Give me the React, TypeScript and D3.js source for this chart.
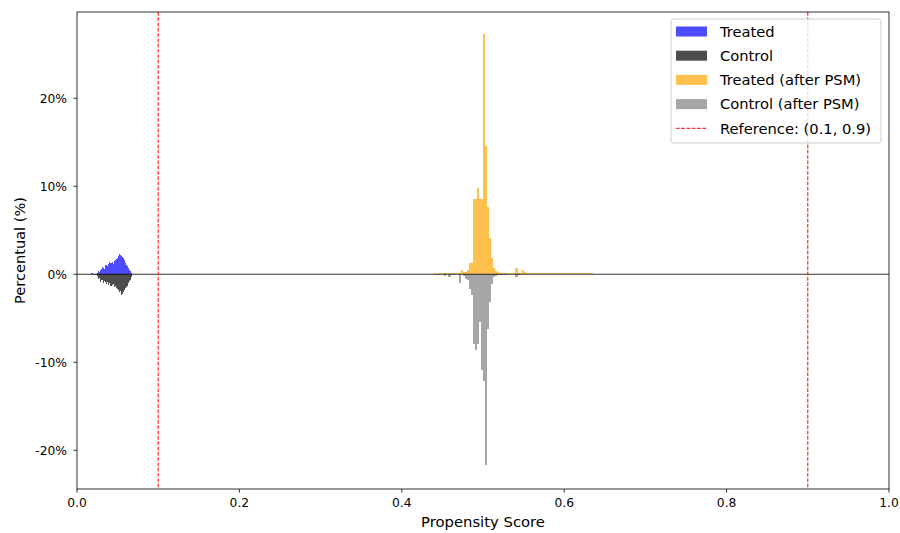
import React from "react";
import * as d3 from "d3";

// ---- data (percent of group per bin) ----
const BEFORE_START = 0.0175;
const BEFORE_BIN = 0.00125;
const treatedBefore = [0.2, 0.1, 0, 0, 0, 0.05, 0.1, 0.35, 0.3, 0.5, 0.6, 0.8, 0.7, 0.6, 1.0, 1.1, 0.9, 1.2, 1.35, 1.3, 1.4, 1.2, 1.5, 1.6, 1.7, 1.9, 2.1, 2.35, 2.2, 2.1, 2.0, 1.8, 1.6, 1.3, 1.1, 0.9, 0.7, 0.5, 0.4, 0.2];
const controlBefore = [0, 0, 0.05, 0, 0.1, 0.05, 0.15, 0.5, 0.4, 0.9, 0.6, 0.7, 1.0, 0.8, 0.9, 1.1, 0.9, 1.2, 1.0, 1.3, 1.2, 1.1, 1.5, 1.3, 1.6, 1.7, 1.8, 2.0, 1.9, 2.35, 2.2, 2.0, 1.8, 1.6, 1.5, 1.3, 1.0, 0.8, 0.6, 0.3];

const AFTER_START = 0.44;
const AFTER_BIN = 0.0025;
const treatedAfter = [
  0.1, 0, 0.1, 0.15, 0.1, 0.1, 0.15, 0.2, 0.15, 0.2, 0.2, 0.2, 0.2, 0.45, 0.3,
  0.3, 0.45, 1.3, 1.3, 8.5, 8.5, 9.8, 8.5, 8.6, 27.3, 14.6, 7.6, 4.1, 1.8, 0.7,
  0.4, 0.3, 0.2, 0.15, 0.15, 0.15, 0.15, 0.15, 0.12, 0.15, 0.75, 0.2, 0.15, 0.45, 0.3, 0.15,
  0.12, 0.12, 0.12, 0.12, 0.12, 0.12, 0.12, 0.12, 0.12, 0.12, 0.12, 0.12, 0.12, 0.12, 0.12, 0.12,
  0.12, 0.12, 0.12, 0.12, 0.12, 0.12, 0.12, 0.12, 0.12, 0.12, 0.12, 0.12, 0.12, 0.12, 0.12, 0.12,
];
const controlAfter = [
  0, 0.1, 0, 0, 0, 0.15, 0, 0.3, 0, 0.1, 0, 0, 1.0, 0, 0.2,
  0.5, 0.7, 1.7, 2.4, 7.9, 8.6, 7.9, 5.45, 10.9, 12.1, 21.7, 6.2, 3.2, 1.1, 0.3,
  0.2, 0.1, 0.05, 0.05, 0, 0.05, 0, 0, 0, 0, 0.3, 0.1,
];

const xTicks = [0, 0.2, 0.4, 0.6, 0.8, 1.0];
const yTicks = [-20, -10, 0, 10, 20];
const refLines = [0.1, 0.9];

const legendItems = [
  { label: "Treated", color: "#4d4dff", kind: "patch" },
  { label: "Control", color: "#4d4d4d", kind: "patch" },
  { label: "Treated (after PSM)", color: "#ffc04d", kind: "patch" },
  { label: "Control (after PSM)", color: "#a6a6a6", kind: "patch" },
  { label: "Reference: (0.1, 0.9)", color: "red", kind: "line" },
];

const W = 900, H = 533;
const L = 77, R = 889, T = 12, B = 489;
const FONT = "DejaVu Sans, sans-serif";

export default function App() {
  const x = d3.scaleLinear().domain([0, 1]).range([L, R]);
  const y = d3.scaleLinear().domain([-24.4, 29.8]).range([B, T]);

  const bars = (vals: number[], start: number, bin: number, sign: number, color: string, key: string) =>
    vals.map((v, i) => {
      if (!v) return null;
      const x0 = x(start + i * bin);
      const x1 = x(start + (i + 1) * bin);
      const y0 = y(0);
      const y1 = y(sign * v);
      return (
        <rect key={key + i} x={x0} width={x1 - x0} y={Math.min(y0, y1)} height={Math.abs(y1 - y0)} fill={color} shapeRendering="crispEdges" />
      );
    });

  return (
    <svg width={W} height={H} style={{ position: "absolute", left: 0, top: 0, background: "white" }} fontFamily={FONT}>
      <rect x={0} y={0} width={W} height={H} fill="white" />
      {bars(treatedBefore, BEFORE_START, BEFORE_BIN, 1, "#4d4dff", "tb")}
      {bars(controlBefore, BEFORE_START, BEFORE_BIN, -1, "#4d4d4d", "cb")}
      {bars(treatedAfter, AFTER_START, AFTER_BIN, 1, "#ffc04d", "ta")}
      {bars(controlAfter, AFTER_START, AFTER_BIN, -1, "#a6a6a6", "ca")}
      <line x1={L} x2={R} y1={y(0)} y2={y(0)} stroke="black" strokeWidth={0.8} />
      {refLines.map((r) => (
        <line key={r} x1={x(r)} x2={x(r)} y1={T} y2={B} stroke="red" strokeWidth={1} strokeDasharray="3.7,1.6" />
      ))}
      <rect x={L} y={T} width={R - L} height={B - T} fill="none" stroke="black" strokeWidth={0.8} />
      {xTicks.map((t) => (
        <g key={"x" + t}>
          <line x1={x(t)} x2={x(t)} y1={B} y2={B + 3.6} stroke="black" strokeWidth={0.8} />
          <text x={x(t)} y={507} textAnchor="middle" fontSize={12.3} fill="black">{t.toFixed(1)}</text>
        </g>
      ))}
      {yTicks.map((t) => (
        <g key={"y" + t}>
          <line x1={L - 3.6} x2={L} y1={y(t)} y2={y(t)} stroke="black" strokeWidth={0.8} />
          <text x={67} y={y(t)} dy="0.35em" textAnchor="end" fontSize={12.3} fill="black">{`${t}%`}</text>
        </g>
      ))}
      <text x={(L + R) / 2} y={527} textAnchor="middle" fontSize={14.8} fill="black">Propensity Score</text>
      <text transform={`translate(25, ${(T + B) / 2}) rotate(-90)`} textAnchor="middle" fontSize={14.6} fill="black">Percentual (%)</text>
      <g>
        <rect x={671} y={19} width={210} height={124} rx={3} fill="white" fillOpacity={0.8} stroke="#cccccc" strokeWidth={1} />
        {legendItems.map((it, i) => {
          const cy = 31.5 + i * 24.2;
          return (
            <g key={it.label}>
              {it.kind === "patch" ? (
                <rect x={676} y={cy - 5} width={31} height={10} fill={it.color} />
              ) : (
                <line x1={676} x2={707} y1={cy} y2={cy} stroke={it.color} strokeWidth={1} strokeDasharray="3.7,1.6" />
              )}
              <text x={720} y={cy} dy="0.36em" fontSize={14.7} fill="black">{it.label}</text>
            </g>
          );
        })}
      </g>
    </svg>
  );
}
